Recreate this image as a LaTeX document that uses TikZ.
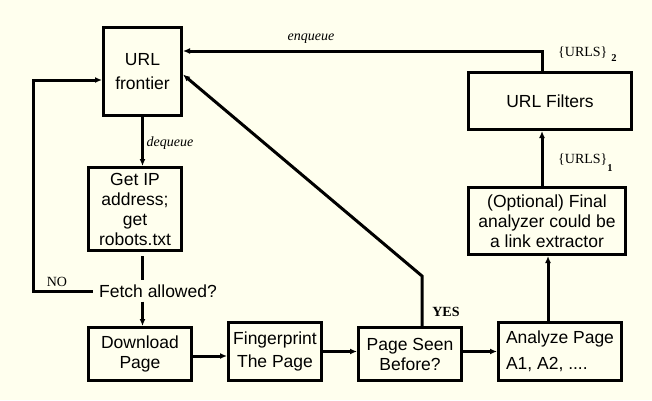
\documentclass[tikz,border=0pt]{standalone}
\usepackage{fontspec}
\setmainfont{Liberation Serif}
\newfontfamily\sansf{Liberation Sans}
\usetikzlibrary{arrows.meta}
\definecolor{bg}{RGB}{255,255,238}
\tikzset{
  box/.style={draw, line width=3pt, inner sep=0pt, align=center,
    font=\sansf\fontsize{17.5}{20}\selectfont},
  conn/.style={line width=3pt, line cap=butt},
  arr/.style={conn, -{Latex[length=7pt,width=6pt]}},
  lbl/.style={inner sep=0pt, font=\fontsize{14}{16}\selectfont},
  ilbl/.style={inner sep=0pt, font=\itshape\fontsize{14}{16}\selectfont},
}
\begin{document}
\begin{tikzpicture}[x=1pt,y=-1pt]
\fill[bg] (0,0) rectangle (652,400);
\useasboundingbox (0,0) rectangle (652,400);

% boxes
\node[box, minimum width=78pt, minimum height=88pt] (frontier) at (142.5,71.5) {URL\\[4pt]frontier};
\node[box, minimum width=93pt, minimum height=83pt] (getip) at (135,209) {Get IP\\address;\\get\\robots.txt};
\node[inner xsep=6pt, inner ysep=4pt, font=\sansf\fontsize{17.5}{20}\selectfont] (fetch) at (158,291) {Fetch allowed?};
\node[box, minimum width=103pt, minimum height=53pt] (download) at (140,354) {Download\\Page};
\node[box, minimum width=93pt, minimum height=58pt] (finger) at (275,351.5) {Fingerprint\\[3pt]The Page};
\node[box, minimum width=103pt, minimum height=53pt] (seen) at (410,354) {Page Seen\\Before?};
\node[box, align=left, minimum width=123pt, minimum height=58pt] (analyze) at (560,351.5) {Analyze Page\\[6pt]A1, A2, ....};
\node[box, minimum width=157pt, minimum height=67pt] (final) at (547,221) {(Optional) Final\\analyzer could be\\a link extractor};
\node[box, minimum width=163pt, minimum height=57pt] (filters) at (550,101) {URL Filters};

% coordinates
\coordinate (nocorner) at (33,80);
\coordinate (yescorner) at (422,276);
\coordinate (enqcorner) at (542,51);
\coordinate (upx) at (548,0);

% connectors
\draw[arr] (frontier.south) -- (getip.north -| frontier.south);
\draw[conn] (getip.south -| frontier.south) ++(0,4) -- (fetch.north -| frontier.south);
\draw[arr] (fetch.south -| frontier.south) -- (download.north -| frontier.south);
\draw[arr] (fetch.west) -| (nocorner) -- (nocorner -| frontier.west);
\draw[arr] (download.east |- 0,356) -- (finger.west |- 0,356);
\draw[arr] (finger.east) -- (seen.west |- finger.east);
\draw[arr] (analyze.west -| seen.east) -- (analyze.west);
\draw[arr] (analyze.north -| upx) -- (final.south -| upx);
\draw[arr] (final.north -| enqcorner) -- (filters.south -| enqcorner);
\draw[arr] (filters.north -| enqcorner) -- (enqcorner) -- (enqcorner -| frontier.east);
\draw[arr] (seen.north -| yescorner) -- (yescorner) -- ([yshift=-3pt]frontier.east);

% labels
\node[ilbl, anchor=base] (enq) at (311,40) {enqueue};
\node[ilbl, anchor=base] (deq) at (170,146) {dequeue};
\node[lbl, anchor=base] (no) at (57,286) {NO};
\node[lbl, anchor=base, font=\bfseries\fontsize{14}{16}\selectfont] (yes) at (446,316) {YES};
\node[lbl, anchor=base west] (urls2) at (558,56) {\{URLS\}\hspace{4pt}\raisebox{-5pt}{\fontsize{10.5}{11}\selectfont\bfseries 2}};
\node[lbl, anchor=base west] (urls1) at (558,163) {\{URLS\}\raisebox{-8pt}{\fontsize{10.5}{11}\selectfont\bfseries 1}};
\end{tikzpicture}
\end{document}
